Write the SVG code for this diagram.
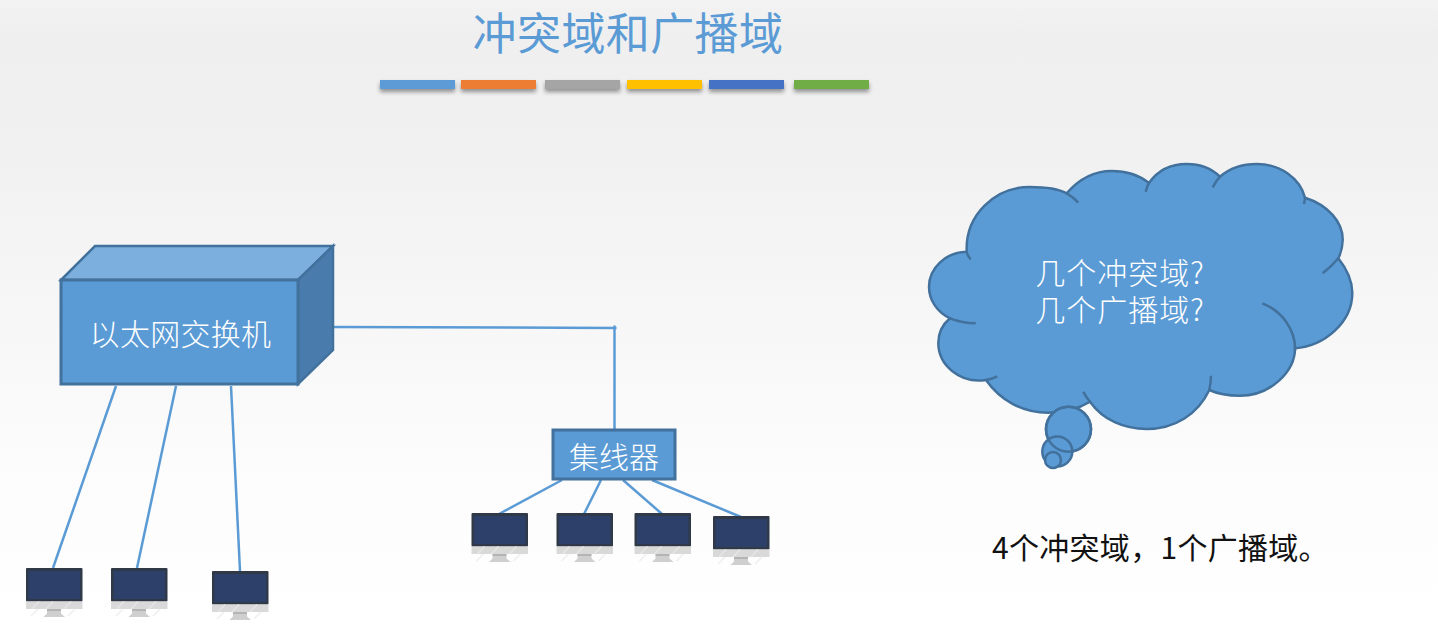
<svg xmlns="http://www.w3.org/2000/svg" width="1438" height="624" viewBox="0 0 1438 624">
<style>
.cjk{font-family:"Noto Sans CJK SC","Liberation Sans",sans-serif;text-anchor:middle;font-weight:300}
.lt{fill:#fff;font-size:30px}
.shape{fill:#5b9bd5;stroke:#41719c;stroke-width:3;stroke-linejoin:miter}
.cloud{stroke-width:2.5}
.arc{fill:none;stroke:#41719c;stroke-width:2.5}
.conn{fill:none;stroke:#5b9bd5;stroke-width:2.500}
.bar{filter:url(#sh)}
</style>
<defs>
<linearGradient id="bg" x1="0" y1="0" x2="0" y2="1">
<stop offset="0" stop-color="#f3f3f3"/><stop offset="0.05" stop-color="#efefef"/><stop offset="0.2" stop-color="#f0f0f0"/><stop offset="0.75" stop-color="#fcfcfc"/><stop offset="1" stop-color="#ffffff"/>
</linearGradient>
<filter id="sh" x="-10%" y="-50%" width="120%" height="250%"><feDropShadow dx="0" dy="3" stdDeviation="2" flood-color="#000" flood-opacity="0.4"/></filter>
<g id="monitor">
<rect x="0" y="0" width="56.500" height="33.500" rx="1" fill="#2f3948"/>
<rect x="2.500" y="3" width="51.500" height="28" fill="#2d4069"/>
<rect x="0" y="33.500" width="56.500" height="7.500" fill="#d9d9d9"/>
<path d="M6 41 L13 33.500 M20 41 L27 33.500 M38 41 L45 33.500" stroke="#e6e6e6" stroke-width="1.500" fill="none"/>
<path d="M5 48 L12 41 M42 48 L49 41" stroke="#efefef" stroke-width="1.500" fill="none"/>
<path d="M21 41 L35 41 L35 45.500 L39 49 L17.500 49 L21 45.500Z" fill="#cfcfcf"/>
<rect x="21" y="41.500" width="14" height="1" fill="#999"/>
</g>
</defs>
<rect width="1438" height="624" fill="url(#bg)"/>
<g id="title">
<text class="cjk" x="628" y="50" font-size="44" letter-spacing="0.4" style="font-weight:400" fill="#5b9bd5">冲突域和广播域</text>
<rect class="bar" x="380" y="80" width="75" height="9" fill="#5b9bd5"/>
<rect class="bar" x="461" y="80" width="75" height="9" fill="#ed7d31"/>
<rect class="bar" x="545" y="80" width="75" height="9" fill="#a5a5a5"/>
<rect class="bar" x="627" y="80" width="75" height="9" fill="#ffc000"/>
<rect class="bar" x="709" y="80" width="75" height="9" fill="#4472c4"/>
<rect class="bar" x="794" y="80" width="75" height="9" fill="#70ad47"/>
</g>
<g id="connectors">
<path class="conn" d="M333 327 L616.500 328"/>
<path class="conn" d="M614.500 325.500 L614.500 429"/>
<path class="conn" d="M116 386 L53 568"/>
<path class="conn" d="M176 386 L137 568"/>
<path class="conn" d="M231 386 L240 571"/>
<path class="conn" d="M562 480 L499 514"/>
<path class="conn" d="M601 480 L584 514"/>
<path class="conn" d="M623 480 L662 514"/>
<path class="conn" d="M652 480 L741 517"/>
</g>
<g id="switch">
<path d="M61 280 L95 246 L333 246 L298 280Z" fill="#7cafde" stroke="#41719c" stroke-width="2.500"/>
<path d="M298 280 L333 246 L333 350 L298 384Z" fill="#497cac" stroke="#41719c" stroke-width="2.500"/>
<rect class="shape" x="61" y="280" width="237" height="104"/>
<text class="cjk lt" x="180.500" y="345" letter-spacing="0.3">以太网交换机</text>
</g>
<g id="hub">
<rect class="shape" x="553" y="430" width="122" height="49"/>
<text class="cjk lt" x="614" y="468">集线器</text>
</g>
<g id="pc1"><use href="#monitor" x="26" y="568"/></g>
<g id="pc2"><use href="#monitor" x="111" y="568"/></g>
<g id="pc3"><use href="#monitor" x="212" y="571"/></g>
<g id="pc4"><use href="#monitor" x="471.500" y="513"/></g>
<g id="pc5"><use href="#monitor" x="556.500" y="513"/></g>
<g id="pc6"><use href="#monitor" x="634.500" y="513"/></g>
<g id="pc7"><use href="#monitor" x="713" y="516"/></g>
<g id="cloud">
<path class="shape cloud" d="M966.700 251.700 C965 215 995 187 1030 187 C1045 187 1057 188 1066.700 193.300 C1080 178 1096 171 1111.700 171 C1126 171 1139 175 1149 183 C1158 170 1172 164 1186.700 164 C1200 164 1211 168 1220 176.700 C1230 168 1243 164 1256.700 164 C1280 164 1300 178 1305 197.700 C1328 205 1343 222 1342.700 240 C1342.500 247 1341 253 1338.300 258.300 C1346 268 1352.300 280 1352.300 293 C1352.300 322 1325 346 1295 348.300 C1295 372 1270 395.700 1240 395.700 C1228 395.700 1218 394 1209.300 390 C1198 414 1175 429 1146.700 429 C1124 429 1103 420 1090 401.700 C1078 409 1063 412.700 1048 412.700 C1022 412.700 1000 400 986 380 C960 384 938.300 365 938.300 343 C938.300 334 942 325 950 318.300 C937 312 929 300 929 286.700 C929 268 946 252 966.700 251.700Z"/>
<path class="arc" d="M1066.700 193.300 Q1073 197 1078.300 202.700 M1149 183 Q1147 186 1145.700 191.700 M1220 176.700 Q1216 181 1212.700 187.300 M1305 197.700 Q1304.700 201 1304 204 M1338.300 258.300 Q1332 266 1322.700 273.300 M1262.300 303.300 C1282 311 1296 330 1295 351 M1209.300 390 Q1210.800 383 1211 375.700 M1090 401.700 Q1086 397 1083.300 391.700 M986 380 Q992 379 997.300 376.300 M950 318.300 Q962 323 975.700 323.300 M966.700 251.700 Q967.500 256 970.700 259.300"/>
<circle class="shape cloud" cx="1068.500" cy="429.300" r="22.500"/>
<circle class="shape cloud" cx="1057.300" cy="451.500" r="15"/>
<circle class="shape cloud" cx="1053" cy="460" r="8"/>
<circle class="arc" cx="1068.500" cy="429.300" r="22.500"/>
<text class="cjk lt" letter-spacing="1"><tspan x="1120" y="284">几个冲突域?</tspan><tspan x="1120" y="321">几个广播域?</tspan></text>
</g>
<g id="answer">
<text class="cjk" x="992" y="559" font-size="30" letter-spacing="0.3" style="text-anchor:start;font-weight:400" fill="#111">4个冲突域&#xFF0C;1个广播域。</text>
</g>
</svg>
